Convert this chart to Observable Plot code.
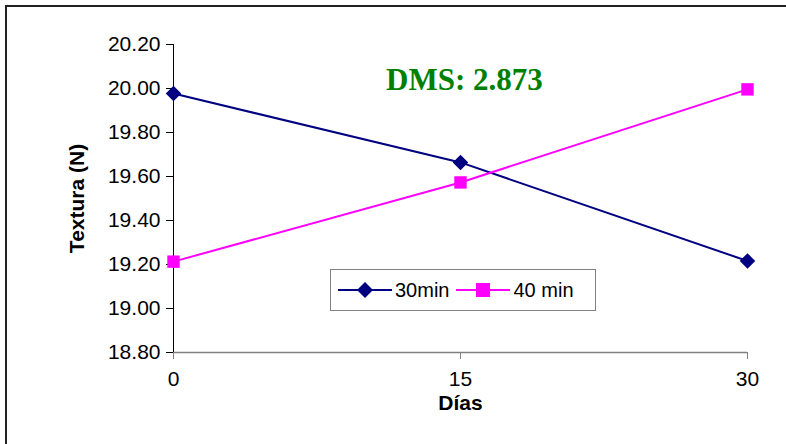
<!DOCTYPE html>
<html>
<head>
<meta charset="utf-8">
<script src="https://cdn.jsdelivr.net/npm/d3@7"></script>
<script src="https://cdn.jsdelivr.net/npm/@observablehq/plot@0.6"></script>
<style>
  html, body { margin: 0; padding: 0; background: #fff; overflow: hidden; }
  #wrap { position: relative; width: 786px; height: 444px; }
  #border { position: absolute; left: 5px; top: 5px; width: 800px; height: 460px; border: 2px solid #222; box-sizing: border-box; }
  #dms { position: absolute; left: 386px; top: 62px; font-family: "Liberation Serif", serif; font-weight: bold; font-size: 31px; color: #008000; white-space: nowrap; }
  #legend { position: absolute; left: 330px; top: 269px; width: 266px; height: 42px; border: 1px solid #808080; box-sizing: border-box; background: #fff;
            font-family: "Liberation Sans", Arial, sans-serif; font-size: 20px; display: flex; align-items: center; padding-left: 7px; }
  #legend .item { display: flex; align-items: center; margin-right: 7px; }
  #legend svg { display: block; margin-right: 3px; }
  #chart svg text { font-family: "Liberation Sans", Arial, sans-serif; }
  #chart [aria-label="y-axis tick label"], #chart [aria-label="x-axis tick label"] { font-size: 21px; }
  #chart [aria-label="y-axis label"], #chart [aria-label="x-axis label"] { font-weight: bold; font-size: 21px; }
</style>
</head>
<body>
<div id="wrap">
  <div id="chart"></div>
  <div id="border"></div>
  <div id="dms"></div>
  <div id="legend"></div>
</div>
<script>
const dias = [0, 15, 30];
const series30 = [19.977, 19.664, 19.216];
const series40 = [19.213, 19.573, 19.996];
const seriesNames = ["30min", "40 min"];
const seriesColors = ["#000080", "#FF00FF"];
const seriesSymbols = ["diamond2", "square"];
const yTicks = [18.8, 19.0, 19.2, 19.4, 19.6, 19.8, 20.0, 20.2];
const xTicks = [0, 15, 30];
const dmsText = "DMS: 2.873";

const data = [];
dias.forEach((d, i) => data.push({dia: d, val: series30[i], serie: seriesNames[0]}));
dias.forEach((d, i) => data.push({dia: d, val: series40[i], serie: seriesNames[1]}));

const plot = Plot.plot({
  width: 786,
  height: 444,
  marginLeft: 173,
  marginRight: 39,
  marginTop: 44,
  marginBottom: 92,
  style: {fontSize: "21px", fontFamily: "Liberation Sans, Arial, sans-serif", color: "#000", background: "transparent", overflow: "visible"},
  x: {domain: [0, 30]},
  y: {domain: [18.8, 20.2]},
  color: {domain: seriesNames, range: seriesColors},
  symbol: {domain: seriesNames, range: seriesSymbols},
  marks: [
    Plot.ruleY([18.8], {stroke: "#808080", strokeWidth: 1.5}),
    Plot.ruleX([0], {stroke: "#000", strokeWidth: 1}),
    Plot.axisY({ticks: yTicks, tickFormat: d3.format(".2f"), tickSize: 7, tickPadding: 6, stroke: "#000", fontSize: 21,
                label: "Textura (N)", labelAnchor: "center", labelArrow: "none", labelOffset: 104}),
    Plot.axisX({ticks: xTicks, tickFormat: d => String(d), tickSize: 7, tickPadding: 12, stroke: "#808080", fontSize: 21,
                label: "Días", labelAnchor: "center", labelArrow: "none", labelOffset: 57}),
    Plot.line(data, {x: "dia", y: "val", z: "serie", stroke: "serie", strokeWidth: 2}),
    Plot.dot(data, {x: "dia", y: "val", symbol: "serie", fill: "serie", stroke: "none", r: 7})
  ]
});
document.getElementById("chart").appendChild(plot);

document.getElementById("dms").textContent = dmsText;

const leg = document.getElementById("legend");
seriesNames.forEach((name, i) => {
  const item = document.createElement("div");
  item.className = "item";
  const sym = seriesSymbols[i] === "square"
    ? `<rect x="20" y="4" width="14" height="14" fill="${seriesColors[i]}"/>`
    : `<path d="M27,3 L35,11 L27,19 L19,11 Z" fill="${seriesColors[i]}"/>`;
  item.innerHTML = `<svg width="54" height="22"><line x1="0" x2="54" y1="11" y2="11" stroke="${seriesColors[i]}" stroke-width="2"/>${sym}</svg><span>${name}</span>`;
  leg.appendChild(item);
});
</script>
</body>
</html>
